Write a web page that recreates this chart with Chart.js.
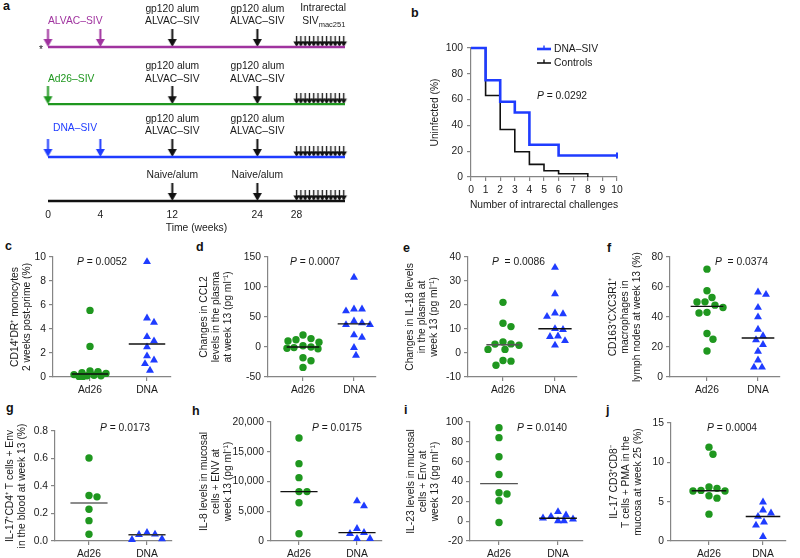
<!DOCTYPE html>
<html>
<head>
<meta charset="utf-8">
<script src="https://cdn.jsdelivr.net/npm/chart.js@4.4.1/dist/chart.umd.min.js"></script>
<style>
body { margin: 0; width: 800px; height: 558px; position: relative; overflow: hidden; background: #fff; font-family: "Liberation Sans", Arial, sans-serif; }
canvas { position: absolute; }
.lbl { position: absolute; font-weight: bold; font-size: 12.5px; line-height: 12px; color: #111; }
</style>
</head>
<body>
<div class="lbl" style="left:3px;top:0px">a</div>
<div class="lbl" style="left:411px;top:7px">b</div>
<div class="lbl" style="left:5px;top:240px">c</div>
<div class="lbl" style="left:196px;top:241px">d</div>
<div class="lbl" style="left:403px;top:242px">e</div>
<div class="lbl" style="left:607px;top:242px">f</div>
<div class="lbl" style="left:6px;top:402px">g</div>
<div class="lbl" style="left:192px;top:405px">h</div>
<div class="lbl" style="left:404px;top:404px">i</div>
<div class="lbl" style="left:606px;top:404px">j</div>
<script>
// ---- data: a, study schedule ----
var timelineWeeks = [0, 4, 12, 24, 28]
var regimens = ['ALVAC–SIV', 'Ad26–SIV', 'DNA–SIV', 'Naive']
var primeWeeks = [[0, 4], [0], [0, 4], []]
var boostWeeks = [12, 24]
var boostText = [['gp120 alum', 'ALVAC–SIV'], ['gp120 alum', 'ALVAC–SIV'], ['gp120 alum', 'ALVAC–SIV'], ['Naive/alum']]
var challengeWeeks = [28, 29, 30, 31, 32, 33, 34, 35, 36, 37, 38, 39]

// ---- data: b, infection curves ----
var challenges = [0, 1, 2, 3, 4, 5, 6, 7, 8, 9, 10]
var dnaSivUninfected = [100, 75, 58.3, 50, 25, 25, 16.7, 16.7, 16.7, 16.7, 16.7]
var controlsUninfected = [100, 63.2, 36.8, 19.6, 9.8, 4.9, 2.5, 2.5, 0]

// ---- data: c-j, group comparisons ----
var groups = ['Ad26', 'DNA']
var cd14Ad26 = [5.55, 2.55, 0.5, 0.45, 0.35, 0.3, 0.2, 0.15, 0.1, 0.1, 0.05, 0.05]
var cd14Dna = [9.6, 4.9, 4.55, 3.35, 3.0, 2.5, 1.75, 1.4, 1.1, 0.55]
var ccl2Ad26 = [20, 14, 12, 10, 8, 2, 0, -1, -3, -2, -18, -23, -34]
var ccl2Dna = [116, 63, 60, 63, 43, 37, 37, 40, 16, 20, -1, -14]
var il18Ad26 = [21.1, 12.4, 11, 4.6, 3.7, 3.2, 3.8, 1.5, 1.5, -3.1, -3.4, -5.1]
var il18Dna = [35.6, 24.6, 16.6, 15.2, 16.3, 9.7, 10.1, 6.8, 7.0, 5.1, 3.2]
var cd163Ad26 = [71.9, 57.5, 53, 50.1, 50, 47.9, 46.3, 42.7, 43.1, 29, 25.2, 17.3]
var cd163Dna = [55, 56.6, 46.3, 40, 31.7, 27.4, 24.7, 21.6, 17.1, 11.2, 6.5, 6.5]
var il17Ad26 = [0.604, 0.331, 0.321, 0.231, 0.148, 0.049]
var il17Dna = [0.061, 0.046, 0.049, 0.01, 0.015]
var il8Ad26 = [17300, 13000, 10650, 8300, 8300, 6440, 1230]
var il8Dna = [5880, 6720, 2070, 1230, 1400, 390, 390]
var il23Ad26 = [94.3, 84.2, 64.9, 47, 27.4, 28.7, 20.6, -1.4]
var il23Dna = [4.7, 2, 0.3, 0.3, 9.5, 3, 6.1]
var il17cd8Ad26 = [11.93, 11.03, 6.86, 6.69, 6.43, 6.35, 6.35, 5.75, 5.45, 3.41]
var il17cd8Dna = [4.94, 3.92, 3.54, 3.11, 2.39, 2.0, 0.55]

// ---- styles ----
var FONT = '"Liberation Sans", Arial, sans-serif'
var FS = 10.3
var GREEN = '#1f971f'
var BLUE = '#1f3cff'
var PURPLE = '#a0339f'
var AXIS = '#858585'
var INK = '#1a1a1a'
var rowColors = [PURPLE, GREEN, BLUE, '#111']
var rowLevel = [3.5, 2.2, 1, 0]
var labelShift = [[0, -26], [0, -25], [5, -28.5]]
// schematic (non-linear) time axis of panel a
var weekStops = [[0, 0], [4, 4], [12, 9.5], [24, 16], [28, 19], [39, 22.6]]

Chart.defaults.font.family = FONT
Chart.defaults.font.size = FS
Chart.defaults.color = INK
Chart.defaults.animation = false
Chart.defaults.events = []
Chart.defaults.plugins.legend.display = false
Chart.defaults.plugins.tooltip.enabled = false

function weekPos(w) {
  for (var i = 1; i < weekStops.length; i++) {
    var a = weekStops[i - 1], b = weekStops[i]
    if (w <= b[0]) return a[1] + (w - a[0]) * (b[1] - a[1]) / (b[0] - a[0])
  }
  return weekStops[weekStops.length - 1][1]
}

function median(v) {
  var s = v.slice().sort(function(a, b) { return a - b })
  var n = s.length
  return n % 2 ? s[(n - 1) / 2] : (s[n / 2 - 1] + s[n / 2]) / 2
}

function addCanvas(box) {
  var c = document.createElement('canvas')
  c.width = box[2]
  c.height = box[3]
  c.style.left = box[0] + 'px'
  c.style.top = box[1] + 'px'
  document.body.appendChild(c)
  return c
}

function txt(ctx, s, x, y, o) {
  o = o || {}
  ctx.save()
  ctx.font = (o.style || '') + ' ' + (o.size || FS) + 'px ' + FONT
  ctx.fillStyle = o.color || INK
  ctx.textAlign = o.align || 'center'
  ctx.textBaseline = 'middle'
  if (o.rot) {
    ctx.translate(x, y)
    ctx.rotate(o.rot)
    ctx.fillText(s, 0, 0)
  } else {
    ctx.fillText(s, x, y)
  }
  ctx.restore()
}

function pval(ctx, s, x, y) {
  ctx.save()
  ctx.font = 'italic ' + FS + 'px ' + FONT
  var w = ctx.measureText('P').width
  ctx.restore()
  txt(ctx, 'P', x, y, {align: 'left', style: 'italic'})
  txt(ctx, s, x + w, y, {align: 'left'})
}

function yTitle(chart, lines, x) {
  var a = chart.chartArea
  var cy = (a.top + a.bottom) / 2
  lines.forEach(function(s, k) {
    txt(chart.ctx, s, x + k * 12, cy, {rot: -Math.PI / 2})
  })
}

function arrowImg(color, len, headW, headH, lw) {
  var c = document.createElement('canvas')
  c.width = Math.ceil(headW) + 2
  c.height = len * 2
  var g = c.getContext('2d')
  var cx = c.width / 2
  g.strokeStyle = color
  g.lineWidth = lw
  g.beginPath()
  g.moveTo(cx, 0)
  g.lineTo(cx, len - headH + 1)
  g.stroke()
  g.fillStyle = color
  g.beginPath()
  g.moveTo(cx - headW / 2, len - headH)
  g.lineTo(cx + headW / 2, len - headH)
  g.lineTo(cx, len)
  g.closePath()
  g.fill()
  return c
}

function axisStyle() {
  return {
    grid: {drawOnChartArea: false, tickLength: 4, color: AXIS, lineWidth: 1.2},
    border: {color: AXIS, width: 1.2}
  }
}

// ---- panel a ----
;(function() {
  var box = [0, 0, 400, 235]
  var cv = addCanvas(box)
  var datasets = []
  var bigBlack = arrowImg('#111', 18, 9, 8, 2)
  var smallBlack = arrowImg('#111', 11, 6.5, 5.5, 1.3)
  regimens.forEach(function(name, r) {
    datasets.push({
      data: [{x: 0, y: rowLevel[r]}, {x: 22.7, y: rowLevel[r]}],
      showLine: true, borderColor: rowColors[r], borderWidth: 2.3, pointRadius: 0, clip: false
    })
    if (primeWeeks[r].length) {
      datasets.push({
        data: primeWeeks[r].map(function(w) { return {x: weekPos(w), y: rowLevel[r]} }),
        pointStyle: arrowImg(rowColors[r], 18, 9, 8, 2), pointRadius: 3, clip: false
      })
    }
    datasets.push({
      data: boostWeeks.map(function(w) { return {x: weekPos(w), y: rowLevel[r]} }),
      pointStyle: bigBlack, pointRadius: 3, clip: false
    })
    datasets.push({
      data: challengeWeeks.map(function(w) { return {x: weekPos(w), y: rowLevel[r]} }),
      pointStyle: smallBlack, pointRadius: 3, clip: false
    })
  })
  new Chart(cv, {
    type: 'scatter',
    data: {datasets: datasets},
    options: {
      responsive: false,
      layout: {padding: {left: 48, right: 55, top: 47, bottom: 0}, autoPadding: false},
      scales: {
        x: {
          type: 'linear', min: 0, max: 22.7,
          afterBuildTicks: function(s) { s.ticks = timelineWeeks.map(function(w) { return {value: weekPos(w)} }) },
          ticks: {padding: 0, autoSkip: false, maxRotation: 0, minRotation: 0, callback: function(v, i) { return timelineWeeks[i] }},
          grid: {display: false}, border: {display: false},
          afterFit: function(s) { s.height = 34 }
        },
        y: {display: false, min: 0, max: 3.5}
      }
    },
    plugins: [{
      id: 'schedule',
      afterDraw: function(chart) {
        var ctx = chart.ctx, xs = chart.scales.x, ys = chart.scales.y
        regimens.forEach(function(name, r) {
          var ry = ys.getPixelForValue(rowLevel[r])
          if (r < 3) txt(ctx, name, xs.getPixelForValue(0) + labelShift[r][0], ry + labelShift[r][1], {align: 'left', color: rowColors[r]})
          boostWeeks.forEach(function(w) {
            var bx = xs.getPixelForValue(weekPos(w))
            var lines = boostText[r]
            lines.forEach(function(s, k) { txt(ctx, s, bx, ry - 25.5 - 12.7 * (lines.length - 1 - k)) })
          })
        })
        var top = ys.getPixelForValue(rowLevel[0])
        var c0 = xs.getPixelForValue(weekPos(challengeWeeks[0]))
        var c1 = xs.getPixelForValue(weekPos(challengeWeeks[challengeWeeks.length - 1]))
        var cx = (c0 + c1) / 2 + 3
        txt(ctx, 'Intrarectal', cx, top - 39)
        txt(ctx, 'SIV', cx - 21, top - 25.5, {align: 'left'})
        txt(ctx, 'mac251', cx - 4.5, top - 22.5, {align: 'left', size: 7.5})
        txt(ctx, '*', xs.left - 7, top + 3)
        txt(ctx, 'Time (weeks)', (xs.left + xs.right) / 2, 228)
      }
    }]
  })
})()

// ---- panel b ----
;(function() {
  var box = [400, 0, 400, 235]
  var cv = addCanvas(box)
  var last = dnaSivUninfected.length - 1
  var ax = axisStyle()
  new Chart(cv, {
    type: 'scatter',
    data: {
      datasets: [{
        label: 'DNA–SIV',
        data: challenges.map(function(c, i) { return {x: c, y: dnaSivUninfected[i]} }),
        showLine: true, stepped: true, borderColor: BLUE, borderWidth: 2.6, borderJoinStyle: 'miter',
        pointStyle: 'line', rotation: 90, pointBorderColor: BLUE, pointBorderWidth: 2,
        pointRadius: dnaSivUninfected.map(function(v, i) { return i === last ? 3 : 0 }), clip: false
      }, {
        label: 'Controls',
        data: controlsUninfected.map(function(v, i) { return {x: challenges[i], y: v} }),
        showLine: true, stepped: true, borderColor: '#111', borderWidth: 1.6, borderJoinStyle: 'miter',
        pointRadius: 0, clip: false
      }]
    },
    options: {
      responsive: false,
      layout: {padding: {left: 0, right: 183, top: 48, bottom: 0}, autoPadding: false},
      scales: {
        x: {
          type: 'linear', min: 0, max: 10,
          ticks: {stepSize: 1, padding: 3, autoSkip: false, maxRotation: 0, minRotation: 0},
          grid: ax.grid, border: ax.border,
          afterFit: function(s) { s.height = 58 }
        },
        y: {
          min: 0, max: 100,
          ticks: {stepSize: 20, padding: 4},
          grid: ax.grid, border: ax.border,
          afterFit: function(s) { s.width = 71 }
        }
      }
    },
    plugins: [{
      id: 'kmText',
      afterDraw: function(chart) {
        var ctx = chart.ctx, a = chart.chartArea
        yTitle(chart, ['Uninfected (%)'], 35)
        txt(ctx, 'Number of intrarectal challenges', (a.left + a.right) / 2, 205)
        chart.data.datasets.forEach(function(ds, k) {
          var ly = 49 + k * 14
          ctx.save()
          ctx.strokeStyle = ds.borderColor
          ctx.lineWidth = ds.borderWidth
          ctx.beginPath()
          ctx.moveTo(137, ly)
          ctx.lineTo(151, ly)
          ctx.stroke()
          ctx.lineWidth = 1.4
          ctx.beginPath()
          ctx.moveTo(144, ly)
          ctx.lineTo(144, ly - 3.5)
          ctx.stroke()
          ctx.restore()
          txt(ctx, ds.label, 154, ly, {align: 'left'})
        })
        pval(ctx, ' = 0.0292', 137, 96)
      }
    }]
  })
})()

// ---- panels c-j ----
function dotPlot(p, ad26, dna) {
  var cv = addCanvas(p.box)
  var unit = p.cat2 - p.cat1
  var xRight = p.cat2 + 0.42 * unit
  var xMin = 1 - (p.cat1 - p.x0) / unit
  var xMax = 2 + (xRight - p.cat2) / unit
  var bottomSpace = p.box[1] + p.box[3] - p.yBot
  var xH = Math.min(18, bottomSpace)
  var sets = [ad26, dna]
  var medCol = p.medColor || ['#111', '#111']
  var datasets = []
  sets.forEach(function(vals, g) {
    var m = median(vals)
    datasets.push({
      data: [{x: g + 1 - 0.32, y: m}, {x: g + 1 + 0.32, y: m}],
      showLine: true, borderColor: medCol[g], borderWidth: 1.4, pointRadius: 0
    })
  })
  sets.forEach(function(vals, g) {
    datasets.push({
      data: vals.map(function(v) { return {x: g + 1, y: v} }),
      pointStyle: g ? 'triangle' : 'circle', pointRadius: g ? 4.6 : 3.7,
      backgroundColor: g ? BLUE : GREEN, borderWidth: 0, clip: false
    })
  })
  var ax = axisStyle()
  var chart = new Chart(cv, {
    type: 'scatter',
    data: {datasets: datasets},
    options: {
      responsive: false,
      layout: {padding: {left: 0, right: p.box[0] + p.box[2] - xRight, top: p.yTop - p.box[1], bottom: bottomSpace - xH}, autoPadding: false},
      scales: {
        x: {
          type: 'linear', min: xMin, max: xMax,
          afterBuildTicks: function(s) { s.ticks = [{value: 1}, {value: 2}] },
          ticks: {padding: 3, autoSkip: false, maxRotation: 0, callback: function(v) { return groups[Math.round(v) - 1] }},
          grid: ax.grid, border: ax.border,
          afterFit: function(s) { s.height = xH }
        },
        y: {
          min: p.yMin, max: p.yMax,
          ticks: {stepSize: p.step, padding: 3, callback: p.fmt || function(v) { return v }},
          grid: ax.grid, border: ax.border,
          afterFit: function(s) { s.width = p.x0 - p.box[0] }
        }
      }
    },
    plugins: [{
      id: 'dotText',
      afterDraw: function(c) {
        yTitle(c, p.title, p.titleX - p.box[0])
        pval(c.ctx, p.ptext, p.px - p.box[0], p.py - p.box[1])
      }
    }]
  })
  // spread overlapping dots sideways inside a limited band (beeswarm)
  var xs = chart.scales.x, ys = chart.scales.y
  var upx = xs.getPixelForValue(2) - xs.getPixelForValue(1)
  var maxOff = 0.33 * upx
  sets.forEach(function(vals, g) {
    var d = 8
    var placed = []
    var offs = []
    var order = vals.map(function(v, i) { return i }).sort(function(a, b) { return vals[b] - vals[a] })
    order.forEach(function(i) {
      var py = ys.getPixelForValue(vals[i])
      var best = null, bestScore = -1
      for (var k = 0; k <= 2 * Math.floor(maxOff); k++) {
        var cx = (k % 2 ? 1 : -1) * Math.ceil(k / 2)
        var minD = Infinity
        placed.forEach(function(q) {
          var dd = Math.sqrt((cx - q.x) * (cx - q.x) + (py - q.y) * (py - q.y))
          if (dd < minD) minD = dd
        })
        if (minD >= d) { best = cx; break }
        if (minD > bestScore) { bestScore = minD; best = cx }
      }
      placed.push({x: best, y: py})
      offs[i] = best
    })
    chart.data.datasets[2 + g].data = vals.map(function(v, i) { return {x: g + 1 + offs[i] / upx, y: v} })
  })
  chart.update('none')
  return chart
}

dotPlot({box: [0, 235, 195, 165], x0: 53, cat1: 90, cat2: 147, yTop: 257, yBot: 377,
  yMin: 0, yMax: 10, step: 2, titleX: 15, px: 77, py: 262, ptext: ' = 0.0052',
  title: ['CD14⁺DR⁺ monocytes', '2 weeks post-prime (%)']}, cd14Ad26, cd14Dna)

dotPlot({box: [195, 235, 205, 165], x0: 268, cat1: 303, cat2: 354, yTop: 257, yBot: 377,
  yMin: -50, yMax: 150, step: 50, titleX: 204, px: 290, py: 262, ptext: ' = 0.0007',
  title: ['Changes in CCL2', 'levels in the plasma', 'at week 13 (pg ml⁻¹)']}, ccl2Ad26, ccl2Dna)

dotPlot({box: [400, 235, 200, 165], x0: 468, cat1: 503, cat2: 555, yTop: 257, yBot: 377,
  yMin: -10, yMax: 40, step: 10, titleX: 410, px: 492, py: 262, ptext: '  = 0.0086', medColor: ['#555', '#111'],
  title: ['Changes in IL-18 levels', 'in the plasma at', 'week 13 (pg ml⁻¹)']}, il18Ad26, il18Dna)

dotPlot({box: [600, 235, 200, 165], x0: 670, cat1: 707, cat2: 758, yTop: 257, yBot: 377,
  yMin: 0, yMax: 80, step: 20, titleX: 613, px: 715, py: 262, ptext: '  = 0.0374',
  title: ['CD163⁺CXC3R1⁺', 'macrophages in', 'lymph nodes at week 13 (%)']}, cd163Ad26, cd163Dna)

dotPlot({box: [0, 400, 185, 158], x0: 55, cat1: 89, cat2: 147, yTop: 431, yBot: 541,
  yMin: 0, yMax: 0.8, step: 0.2, titleX: 10, px: 100, py: 428, ptext: ' = 0.0173', medColor: ['#666', '#333'],
  fmt: function(v) { return v.toFixed(1) },
  title: ['IL-17⁺CD4⁺ T cells + Env', 'in the blood at week 13 (%)']}, il17Ad26, il17Dna)

dotPlot({box: [185, 400, 215, 158], x0: 271, cat1: 299, cat2: 357, yTop: 422, yBot: 541,
  yMin: 0, yMax: 20000, step: 5000, titleX: 204, px: 312, py: 428, ptext: ' = 0.0175',
  fmt: function(v) { return v.toLocaleString('en-US') },
  title: ['IL-8 levels in mucosal', 'cells + ENV at', 'week 13 (pg ml⁻¹)']}, il8Ad26, il8Dna)

dotPlot({box: [400, 400, 200, 158], x0: 470, cat1: 499, cat2: 558, yTop: 422, yBot: 541,
  yMin: -20, yMax: 100, step: 20, titleX: 411, px: 517, py: 428, ptext: ' = 0.0140', medColor: ['#555', '#111'],
  title: ['IL-23 levels in mucosal', 'cells + Env at', 'week 13 (pg ml⁻¹)']}, il23Ad26, il23Dna)

dotPlot({box: [600, 400, 200, 158], x0: 671, cat1: 709, cat2: 763, yTop: 423, yBot: 541,
  yMin: 0, yMax: 15, step: 5, titleX: 614, px: 707, py: 428, ptext: ' = 0.0004',
  title: ['IL-17 CD3⁺CD8⁻', 'T cells + PMA in the', 'mucosa at week 25 (%)']}, il17cd8Ad26, il17cd8Dna)
</script>
</body>
</html>
